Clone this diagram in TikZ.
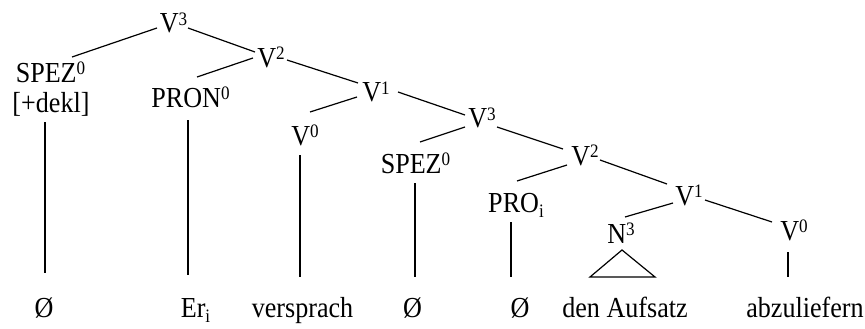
\documentclass[tikz,border=0pt]{standalone}
\usepackage{fontspec}
\setmainfont{Liberation Serif}[FakeStretch=0.9]
\newcommand\sups[1]{\raisebox{7.5pt}{\fontsize{19}{19}\selectfont #1}}
\newcommand\subs[1]{\raisebox{-5pt}{\fontsize{19}{19}\selectfont #1}}
\begin{document}
\begin{tikzpicture}[x=1pt,y=-1pt,
  lab/.style={inner sep=0pt,anchor=base,font=\fontsize{29}{33}\selectfont},
  edge/.style={line width=1.2pt,black}]
\useasboundingbox (0,0) rectangle (865,329);
% labels
\node[lab] (V3a) at (173.5,33) {V\sups{3}};
\node[lab] (V2a) at (271,67) {V\sups{2}};
\node[lab] (V1a) at (376,102) {V\sups{1}};
\node[lab] (V0a) at (305,145) {V\sups{0}};
\node[lab] (SPEZa) at (50.5,82) {SPEZ\sups{0}};
\node[lab] (dekl) at (51,112) {[+dekl]};
\node[lab] (PRON) at (190.5,107) {PRON\sups{0}};
\node[lab] (V3b) at (482,128) {V\sups{3}};
\node[lab] (SPEZb) at (415.5,173) {SPEZ\sups{0}};
\node[lab] (V2b) at (585,165) {V\sups{2}};
\node[lab] (PRO) at (516,212) {PRO\subs{i}};
\node[lab] (V1b) at (689,205) {V\sups{1}};
\node[lab] (N3) at (621,243) {N\sups{3}};
\node[lab] (V0b) at (794,240) {V\sups{0}};
% words
\node[lab] (w1) at (44,317) {Ø};
\node[lab] (w2) at (195.5,317) {Er\subs{i}};
\node[lab] (w3) at (302.5,317) {versprach};
\node[lab] (w4) at (412.5,317) {Ø};
\node[lab] (w5) at (520,317) {Ø};
\node[lab] (w6) at (625,317) {den Aufsatz};
\node[lab] (w7) at (805,317) {abzuliefern};
% branches
\draw[edge] ([shift={(-16.5,-5)}]V3a.base) -- ([shift={(21.5,-25)}]SPEZa.base);
\draw[edge] ([shift={(14.5,-5)}]V3a.base) -- ([shift={(-16,-15)}]V2a.base);
\draw[edge] ([shift={(-18,-9)}]V2a.base) -- ([shift={(6.5,-30)}]PRON.base);
\draw[edge] ([shift={(16,-7)}]V2a.base) -- ([shift={(-18,-19)}]V1a.base);
\draw[edge] ([shift={(-19,-5)}]V1a.base) -- ([shift={(5,-33)}]V0a.base);
\draw[edge] ([shift={(22,-10)}]V1a.base) -- ([shift={(-17,-13)}]V3b.base);
\draw[edge] ([shift={(-17,-1)}]V3b.base) -- ([shift={(4.5,-31)}]SPEZb.base);
\draw[edge] ([shift={(15,-1)}]V3b.base) -- ([shift={(-22,-16)}]V2b.base);
\draw[edge] ([shift={(-18,0)}]V2b.base) -- ([shift={(1,-31)}]PRO.base);
\draw[edge] ([shift={(15,-5)}]V2b.base) -- ([shift={(-22,-21)}]V1b.base);
\draw[edge] ([shift={(-16,-2)}]V1b.base) -- ([shift={(4,-26)}]N3.base);
\draw[edge] ([shift={(16,-5)}]V1b.base) -- ([shift={(-22,-18)}]V0b.base);
% vertical lines
\draw[edge] ([shift={(-6,10)}]dekl.base) -- ([shift={(1,-44)}]w1.base);
\draw[edge] ([shift={(-2.5,13)}]PRON.base) -- ([shift={(-7.5,-42)}]w2.base);
\draw[edge] ([shift={(-5,10)}]V0a.base) -- ([shift={(-2.5,-40)}]w3.base);
\draw[edge] ([shift={(-0.5,10)}]SPEZb.base) -- ([shift={(2.5,-40)}]w4.base);
\draw[edge] ([shift={(-5,10)}]PRO.base) -- ([shift={(-9,-40)}]w5.base);
\draw[edge] ([shift={(-6,12)}]V0b.base) -- ([shift={(-17,-40)}]w7.base);
% triangle
\draw[edge,line join=miter] ([shift={(1,7)}]N3.base) -- ([shift={(-35,-40)}]w6.base) -- ([shift={(30,-40)}]w6.base) -- cycle;
\end{tikzpicture}
\end{document}
